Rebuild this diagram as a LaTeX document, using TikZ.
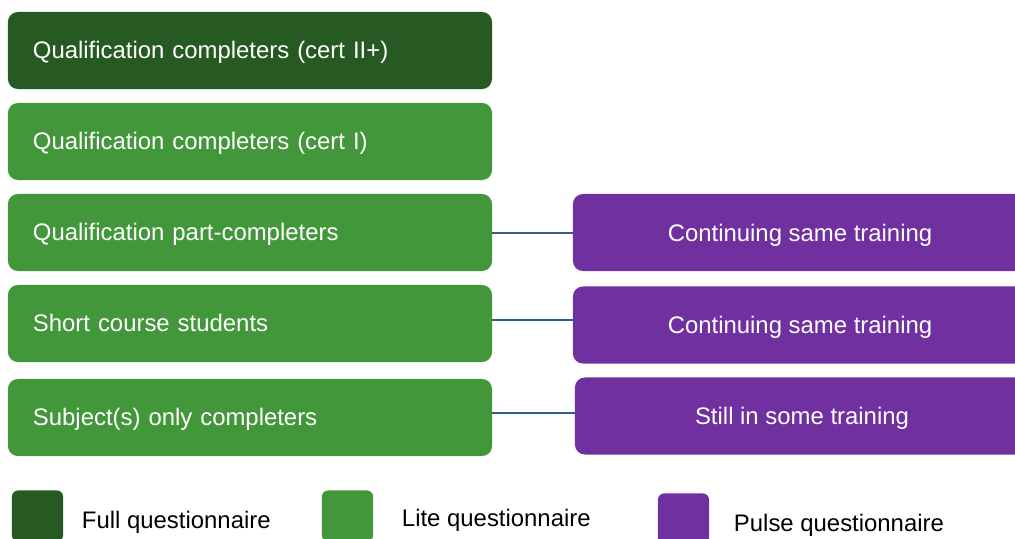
\documentclass[tikz,border=0pt]{standalone}
\usepackage{fontspec}
\setmainfont{Liberation Sans}
\definecolor{fullgreen}{HTML}{265A22}
\definecolor{litegreen}{HTML}{43973B}
\definecolor{pulsepurple}{HTML}{7030A0}
\definecolor{linkblue}{HTML}{2E5E8C}
\tikzset{
	greenbox/.style={rounded corners=0.25cm, minimum width=12.1cm, minimum height=1.925cm, text width=10.85cm, inner xsep=0.625cm, align=left, text=white, text height=15.5pt, text depth=3.6pt, font=\fontsize{17}{19}\selectfont},
	purplebox/.style={rounded corners=0.25cm, fill=pulsepurple, minimum width=11.35cm, minimum height=1.925cm, text=white, text height=16pt, text depth=3.6pt, font=\fontsize{17}{19}\selectfont},
	legendbox/.style={rounded corners=0.15cm, minimum width=1.275cm, minimum height=1.275cm},
	legendtext/.style={anchor=west, font=\fontsize{17}{19}\selectfont},
	link/.style={linkblue, line width=1pt}
}
\begin{document}
\begin{tikzpicture}[x=0.025cm, y=-0.025cm]
	\useasboundingbox (0,0) rectangle (1015,539);
	\clip (0,0) rectangle (1015,539);

	\node[greenbox, fill=fullgreen] (g1) at (250,50.5) {Qualification completers (cert II+)};
	\node[greenbox, fill=litegreen] (g2) at (250,141.5) {Qualification completers (cert I)};
	\node[greenbox, fill=litegreen] (g3) at (250,232.5) {Qualification part-completers};
	\node[greenbox, fill=litegreen] (g4) at (250,323.5) {Short course students};
	\node[greenbox, fill=litegreen] (g5) at (250,417.5) {Subject(s) only completers};

	\node[purplebox] (p3) at (800,232.5) {Continuing same training};
	\node[purplebox] (p4) at (800,325) {Continuing same training};
	\node[purplebox] (p5) at (802,416) {Still in some training};

	\draw[link] (g3.east |- 0,233) -- (p3.west |- 0,233);
	\draw[link] (g4.east |- 0,320) -- (p4.west |- 0,320);
	\draw[link] (g5.east |- 0,413) -- (p5.west |- 0,413);

	% legend
	\node[legendbox, fill=fullgreen] (l1) at (37.5,516) {};
	\node[legendtext] (t1) at (77,522) {Full questionnaire};
	\node[legendbox, fill=litegreen] (l2) at (347.5,516) {};
	\node[legendtext] (t2) at (397,520) {Lite questionnaire};
	\node[legendbox, fill=pulsepurple] (l3) at (683.5,519) {};
	\node[legendtext] (t3) at (729,525) {Pulse questionnaire};
\end{tikzpicture}
\end{document}
